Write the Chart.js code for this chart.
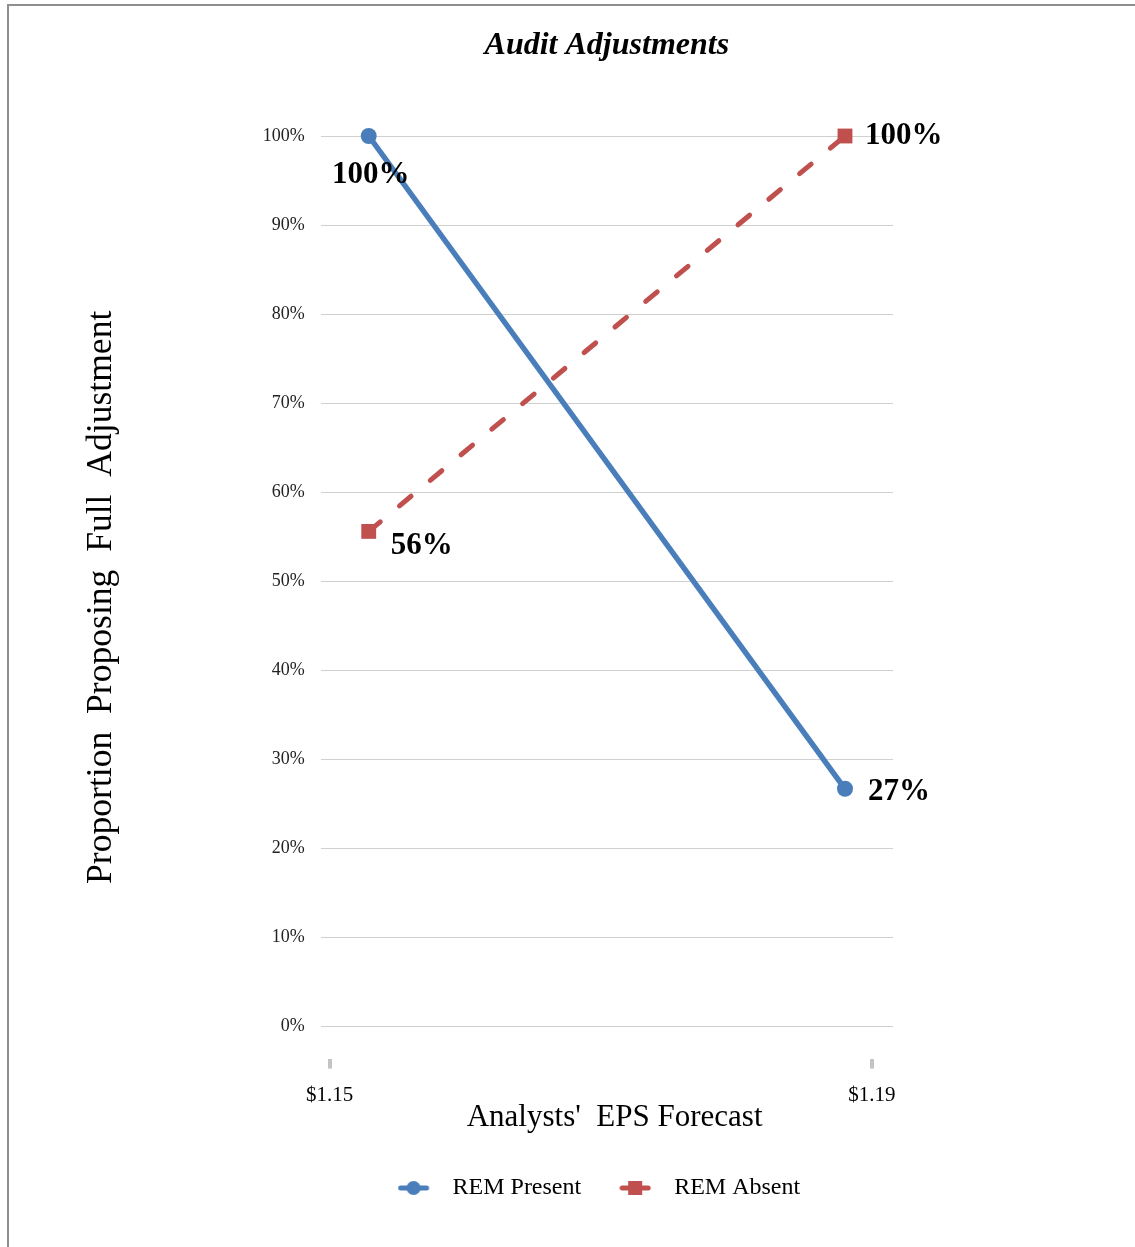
<!DOCTYPE html>
<html>
<head>
<meta charset="utf-8">
<title>Audit Adjustments</title>
<script src="https://cdn.jsdelivr.net/npm/chart.js@4/dist/chart.umd.min.js"></script>
<style>
  html, body { margin: 0; padding: 0; background: #fff; }
  #wrap { width: 1135px; height: 1247px; position: relative; }
</style>
</head>
<body>
<div id="wrap"><canvas id="c" width="1135" height="1247"></canvas></div>
<script>
// Forecast categories and the share of participants proposing full adjustment (%)
const categories = ['$1.15', '$1.19'];
const seriesNames = ['REM Present', 'REM Absent'];
const remPresent = [100, 26.7];
const remAbsent = [55.6, 100];
const yTickValues = [0, 10, 20, 30, 40, 50, 60, 70, 80, 90, 100];

const BLUE = '#4a7ebb';
const RED = '#c0504d';
const SERIF = "'Liberation Serif', 'Times New Roman', serif";

// Legend icons: a line segment with the series marker on it. The image is wider than
// the legend box so the icon can start a little before the box's left edge.
const LEGEND_BOX_W = 27, ICON_CANVAS_W = 59;
function makeIcon(color, shape) {
  const cv = document.createElement('canvas');
  cv.width = ICON_CANVAS_W; cv.height = 16;
  const g = cv.getContext('2d');
  g.strokeStyle = color; g.fillStyle = color;
  g.lineWidth = 5; g.lineCap = 'round';
  g.beginPath(); g.moveTo(3, 8); g.lineTo(29, 8); g.stroke();
  if (shape === 'circle') {
    g.beginPath(); g.arc(16, 8, 7, 0, Math.PI * 2); g.fill();
  } else {
    g.fillRect(9, 1, 14, 14);
  }
  return cv;
}
const legendIcons = [makeIcon(BLUE, 'circle'), makeIcon(RED, 'rect')];

// Points sit at category index 0 and 1; the axis labels sit slightly outside them
const X_MIN = -0.1008, X_MAX = 1.1008;
const X_TICK_POS = [-0.0819, 1.0567];

const toXY = vals => vals.map((v, i) => ({ x: i, y: v }));

// Frame along the top and left edges
const framePlugin = {
  id: 'frame',
  beforeDraw(chart) {
    const ctx = chart.ctx;
    ctx.save();
    ctx.fillStyle = '#fff';
    ctx.fillRect(0, 0, chart.width, chart.height);
    ctx.strokeStyle = '#8f8f8f';
    ctx.lineWidth = 2;
    ctx.beginPath();
    ctx.moveTo(8, chart.height);
    ctx.lineTo(8, 5);
    ctx.lineTo(chart.width, 5);
    ctx.stroke();
    ctx.restore();
  }
};

// Bold value labels next to each point
const labelOffsets = [
  [{ dx: 2, dy: 39, align: 'center' }, { dx: 23, dy: 3, align: 'left' }],
  [{ dx: 22, dy: 15, align: 'left' }, { dx: 20, dy: 0, align: 'left' }]
];
const valueLabels = {
  id: 'valueLabels',
  afterDatasetsDraw(chart) {
    const ctx = chart.ctx;
    ctx.save();
    ctx.font = 'bold 31px ' + SERIF;
    ctx.fillStyle = '#000';
    ctx.textBaseline = 'middle';
    chart.data.datasets.forEach((ds, di) => {
      const meta = chart.getDatasetMeta(di);
      meta.data.forEach((pt, pi) => {
        const o = labelOffsets[di][pi];
        ctx.textAlign = o.align;
        ctx.fillText(Math.round(ds.data[pi].y) + '%', pt.x + o.dx, pt.y + o.dy);
      });
    });
    ctx.restore();
  }
};

new Chart(document.getElementById('c'), {
  type: 'line',
  data: {
    datasets: [
      {
        label: seriesNames[0],
        data: toXY(remPresent),
        borderColor: BLUE,
        backgroundColor: BLUE,
        borderWidth: 5.5,
        pointStyle: 'circle',
        pointRadius: 8,
        pointHoverRadius: 8,
        pointBorderWidth: 0,
        clip: false
      },
      {
        label: seriesNames[1],
        data: toXY(remAbsent),
        borderColor: RED,
        backgroundColor: RED,
        borderWidth: 5,
        borderDash: [15, 25],
        borderCapStyle: 'round',
        pointStyle: 'rect',
        pointRadius: 10.5,
        pointHoverRadius: 10.5,
        pointBorderWidth: 0,
        clip: false
      }
    ]
  },
  options: {
    responsive: false,
    animation: false,
    devicePixelRatio: 1,
    layout: { padding: { left: 80, right: 242, top: 0, bottom: 37 } },
    plugins: {
      tooltip: { enabled: false },
      title: {
        display: true,
        fullSize: false,
        text: 'Audit Adjustments',
        color: '#000',
        font: { family: SERIF, size: 32, weight: 'bold', style: 'italic' },
        padding: { top: 27, bottom: 70.6 }
      },
      legend: {
        display: true,
        position: 'bottom',
        fullSize: false,
        labels: {
          color: '#000',
          font: { family: SERIF, size: 24 },
          usePointStyle: true,
          pointStyleWidth: LEGEND_BOX_W,
          padding: 54,
          generateLabels(chart) {
            const items = Chart.defaults.plugins.legend.labels.generateLabels(chart);
            items.forEach((it, i) => { it.pointStyle = legendIcons[i]; it.lineWidth = 0; });
            return items;
          }
        }
      }
    },
    scales: {
      x: {
        type: 'linear',
        min: X_MIN,
        max: X_MAX,
        afterBuildTicks(scale) {
          scale.ticks = X_TICK_POS.map(v => ({ value: v }));
        },
        ticks: {
          autoSkip: false,
          color: '#000',
          font: { family: SERIF, size: 21 },
          padding: 14,
          maxRotation: 0,
          callback(value, index) { return categories[index]; }
        },
        grid: {
          drawOnChartArea: false,
          drawTicks: true,
          tickLength: 10,
          lineWidth: 4,
          color: '#c4c4c4'
        },
        border: { display: false },
        title: {
          display: true,
          text: "  Analysts'  EPS Forecast",
          color: '#000',
          font: { family: SERIF, size: 31 },
          padding: { top: -23, bottom: -14 }
        }
      },
      y: {
        type: 'linear',
        min: -3.6,
        max: 100,
        afterBuildTicks(scale) {
          scale.ticks = yTickValues.map(v => ({ value: v }));
        },
        ticks: {
          color: '#222',
          font: { family: SERIF, size: 18 },
          padding: 16,
          callback(value) { return value + '%'; }
        },
        grid: {
          color: '#d0d0d0',
          lineWidth: 1,
          drawTicks: false
        },
        border: { display: false },
        title: {
          display: true,
          text: 'Proportion  Proposing  Full  Adjustment',
          color: '#000',
          font: { family: SERIF, size: 35.6 },
          padding: { top: 0, bottom: 124 }
        }
      }
    }
  },
  plugins: [framePlugin, valueLabels]
});
</script>
</body>
</html>
